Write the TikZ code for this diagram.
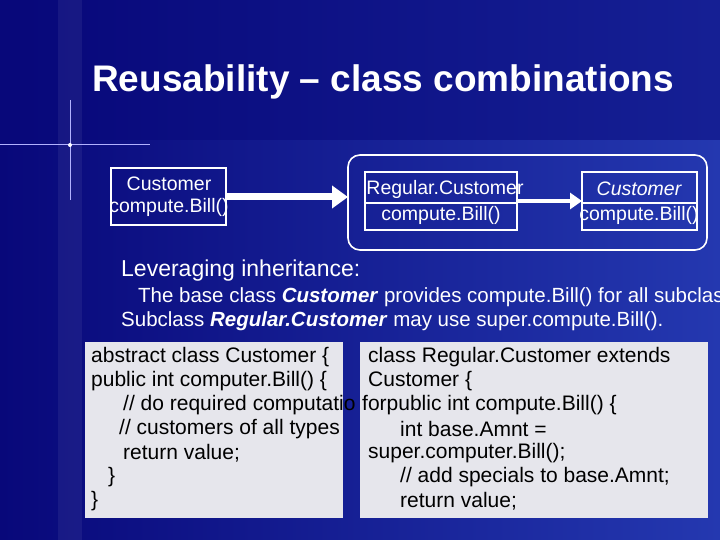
\documentclass[tikz,border=0pt]{standalone}
\usepackage{fontspec}
\setmainfont{Liberation Sans}
\usetikzlibrary{arrows.meta}
\definecolor{bgdark}{HTML}{08087A}
\definecolor{bglight}{HTML}{2438B0}
\definecolor{codebg}{HTML}{E6E6EC}
\tikzset{
  uml/.style={draw=white,line width=1.6pt},
  bigarrow/.style={white,line width=7pt,-{Triangle[length=16pt,width=22pt]}},
  smallarrow/.style={white,line width=4pt,-{Triangle[length=12pt,width=16pt]}},
  lbl/.style={text=white,font=\fontsize{19.5}{22}\selectfont,inner sep=0pt},
  code/.style={anchor=west,inner sep=0pt,font=\fontsize{21}{24}\selectfont,text=black},
  txt/.style={anchor=west,inner sep=0pt,text=white,font=\fontsize{20.5}{24}\selectfont},
  codebox/.style={fill=codebg,draw=none}
}
\begin{document}
\begin{tikzpicture}[x=1pt,y=-1pt]
\useasboundingbox (0,0) rectangle (720,540);
\shade[left color=bgdark,right color=bglight] (0,0) rectangle (720,540);
\fill[bgdark,opacity=0.5] (0,0) rectangle (720,140);
% flare
\fill[white,opacity=0.06] (58,0) rectangle (82,540);
\draw[white!70!blue,line width=1pt] (70,100) -- (70,200);
\draw[white!70!blue,line width=1pt] (0,145) -- (150,145);
\fill[white] (70,145) circle (2pt);
\node[anchor=west,text=white,font=\bfseries\fontsize{37}{40}\selectfont,inner sep=0pt] (title) at (92,82) {Reusability – class combinations};
% top diagram
\draw[uml] (111,168) rectangle (226,225);
\node[lbl,align=center] (c1) at (169,197) {Customer\\[0pt]compute.Bill()};
\coordinate (c1e) at (226,197);
\draw[uml,rounded corners=12pt] (348,155) rectangle (707,250);
\coordinate (grp) at (348,197);
\draw[bigarrow] (c1e) -- (grp);
\draw[uml] (365,172) rectangle (517,230);
\draw[uml] (365,203) -- (517,203);
\node[lbl] (r1) at (445,189) {Regular.Customer};
\node[lbl] (r2) at (441,215) {compute.Bill()};
\draw[uml] (582,172) rectangle (697,230);
\draw[uml] (582,203) -- (697,203);
\node[lbl,font=\itshape\fontsize{19.5}{22}\selectfont] (k1) at (639,189) {Customer};
\node[lbl] (k2) at (639,215) {compute.Bill()};
\draw[smallarrow] (517,201) -- (582,201);
% text
\node[txt,font=\fontsize{23}{26}\selectfont] (t1) at (121,271) {Leveraging inheritance:};
\node[txt] (t2) at (138,297) {The base class \textbf{\itshape Customer} provides compute.Bill() for all subclasses};
\node[txt] (t3) at (121,321) {Subclass \textbf{\itshape Regular.Customer} may use super.compute.Bill().};
% code boxes
\fill[codebox] (85,342) rectangle (343,518);
\node[code] at (91,357) {abstract class Customer \{};
\node[code] at (91,381) {public int computer.Bill() \{};
\node[code] at (123,405) {// do required computatio};
\node[code] at (119,429) {// customers of all types};
\node[code] at (123,453) {return value;};
\node[code] at (108,477) {\}};
\node[code] at (91,501) {\}};
\fill[codebox] (360,342) rectangle (708,518);
\node[code] at (368,357) {class Regular.Customer extends};
\node[code] at (368,381) {Customer \{};
\node[code] at (362,405) {forpublic int compute.Bill() \{};
\node[code] at (400,429) {int base.Amnt =};
\node[code] at (368,453) {super.computer.Bill();};
\node[code] at (400,477) {// add specials to base.Amnt;};
\node[code] at (400,501) {return value;};
\end{tikzpicture}
\end{document}
